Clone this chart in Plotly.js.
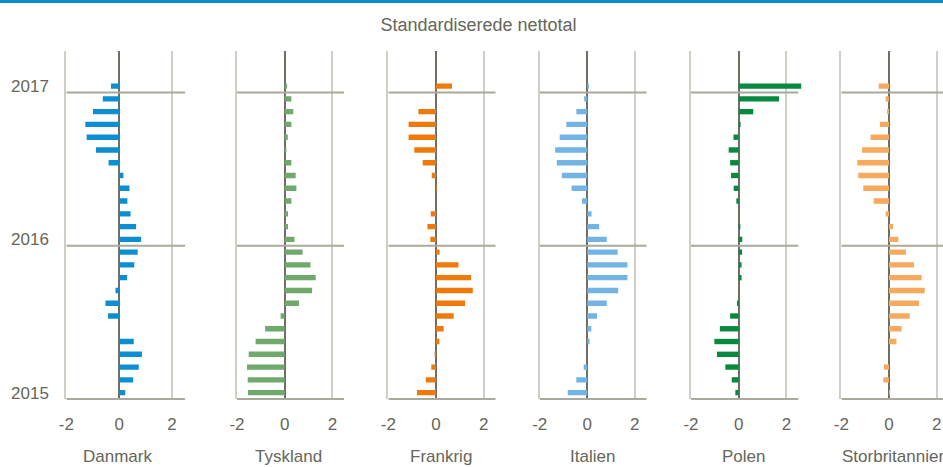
<!DOCTYPE html>
<html>
<head>
<meta charset="utf-8">
<script src="https://cdn.plot.ly/plotly-3.0.1.min.js"></script>
<style>html,body{margin:0;padding:0;background:#fff}#chart{width:943px;height:467px}</style>
</head>
<body>
<div id="chart"></div>
<script>
// Monthly periods, bottom (Jan 2015) to top (Jan 2017)
const months = ['2015-01','2015-02','2015-03','2015-04','2015-05','2015-06','2015-07','2015-08','2015-09','2015-10','2015-11','2015-12',
                '2016-01','2016-02','2016-03','2016-04','2016-05','2016-06','2016-07','2016-08','2016-09','2016-10','2016-11','2016-12',
                '2017-01'];
const yearTickPos = ['2015-01','2016-01','2017-01'];
const yearTickText = ['2015','2016','2017'];
const xTicks = [-2, 0, 2];
const countries = ['Danmark','Tyskland','Frankrig','Italien','Polen','Storbritannien'];

const danmark = [0.23,0.53,0.74,0.86,0.55,0,-0.42,-0.52,-0.14,0.30,0.57,0.70,0.83,0.64,0.43,0.31,0.39,0.16,-0.40,-0.88,-1.23,-1.28,-0.99,-0.62,-0.31];
const tyskland = [-1.54,-1.55,-1.58,-1.51,-1.22,-0.82,-0.17,0.60,1.15,1.30,1.08,0.75,0.41,0.14,0.14,0.28,0.49,0.46,0.28,0.07,0.13,0.28,0.36,0.28,0.10];
const frankrig = [-0.80,-0.43,-0.20,-0.06,0.14,0.32,0.74,1.22,1.54,1.47,0.94,0.15,-0.24,-0.36,-0.22,0,0.03,-0.18,-0.56,-0.91,-1.15,-1.15,-0.74,0,0.67];
const italien = [-0.82,-0.46,-0.15,0,0.10,0.17,0.41,0.82,1.30,1.69,1.69,1.28,0.82,0.50,0.18,-0.22,-0.66,-1.07,-1.28,-1.35,-1.16,-0.88,-0.46,-0.13,0.07];
const polen = [-0.14,-0.29,-0.56,-0.91,-1.02,-0.79,-0.36,-0.07,0,0.12,0.12,0.14,0.15,0.07,0,-0.10,-0.21,-0.32,-0.36,-0.42,-0.22,0.08,0.61,1.69,2.62];
const storbritannien = [0.05,-0.24,-0.21,0,0.31,0.53,0.87,1.26,1.50,1.37,1.05,0.71,0.39,0.17,-0.14,-0.64,-1.08,-1.29,-1.33,-1.13,-0.77,-0.38,-0.08,-0.14,-0.43];

const series = [danmark, tyskland, frankrig, italien, polen, storbritannien];
const colors = ['#0b8fd2','#6fa96c','#ef7a0a','#72b4e4','#078a3f','#f7a95e'];

// layout geometry (pixels in a 943x467 figure)
const W = 943, H = 467;
const panelPx = [[66.3,185.3],[237,344.3],[388.3,495.7],[539.7,646.7],[691,801.9],[841.3,943]];
const panelRange = [[-2,2.5],[-2,2.5],[-2,2.5],[-2,2.5],[-2,2.65],[-2,2.264]];
const lineEnd = [2.5,2.5,2.5,2.5,2.5,2.264];
const labelX = [-0.06,0.17,0.21,0.23,0.22,0.25];
const plotTop = 51, plotBot = 399;
const yRange = [-0.5, 26.75];

const txt = '#66665a';
const font = 'Liberation Sans, Arial, sans-serif';

const idx = months.map((m, i) => i);
const traces = series.map((vals, k) => ({
  type: 'bar', orientation: 'h',
  x: vals, y: idx,
  xaxis: 'x' + (k === 0 ? '' : k + 1), yaxis: 'y' + (k === 0 ? '' : k + 1),
  marker: {color: colors[k]}, width: 0.42,
  hoverinfo: 'skip', name: countries[k]
}));

const layout = {
  width: W, height: H,
  margin: {l: 0, r: 0, t: 0, b: 0},
  paper_bgcolor: '#fff', plot_bgcolor: 'rgba(0,0,0,0)',
  showlegend: false,
  font: {family: font, color: txt, size: 17},
  title: {text: 'Standardiserede nettotal', x: 478.5 / W, xanchor: 'center', y: 1 - 25 / H, yanchor: 'middle',
          font: {family: font, size: 18, color: txt}},
  shapes: [], annotations: []
};

const yDom = [1 - plotBot / H, 1 - plotTop / H];
const tickIdx = yearTickPos.map(p => months.indexOf(p));

for (let k = 0; k < 6; k++) {
  const s = k === 0 ? '' : String(k + 1);
  layout['xaxis' + s] = {
    domain: [panelPx[k][0] / W, panelPx[k][1] / W], range: panelRange[k], anchor: 'y' + s,
    tickvals: xTicks, ticktext: xTicks.map(String), ticks: '', ticklabelstandoff: 13,
    showgrid: true, gridcolor: '#cfcfc6', gridwidth: 2,
    zeroline: true, zerolinecolor: '#6e6e62', zerolinewidth: 2,
    showline: false, fixedrange: true, tickfont: {size: 17, color: txt}
  };
  layout['yaxis' + s] = {
    domain: yDom, range: yRange, anchor: 'x' + s,
    tickvals: k === 0 ? tickIdx : [], ticktext: k === 0 ? yearTickText : [],
    showticklabels: k === 0, ticks: '', ticklabelstandoff: 12,
    showgrid: false, zeroline: false,
    showline: true, linecolor: '#cfcfc6', linewidth: 2, fixedrange: true,
    tickfont: {size: 17, color: txt}
  };
  // year separator lines
  [11.5, 23.5].forEach(v => layout.shapes.push({
    type: 'line', xref: 'x' + s, yref: 'y' + s, x0: -2, x1: lineEnd[k], y0: v, y1: v,
    line: {color: '#aaa99c', width: 2}
  }));
  // bottom axis line
  layout.shapes.push({
    type: 'line', xref: 'x' + s, yref: 'paper', x0: -2, x1: lineEnd[k], y0: 1 - plotBot / H, y1: 1 - plotBot / H,
    line: {color: '#aaa99c', width: 2}
  });
  layout.annotations.push({
    text: countries[k], xref: 'x' + s, yref: 'paper', x: labelX[k], y: 1 - 456 / H,
    xanchor: 'center', yanchor: 'middle', showarrow: false, font: {size: 17, color: txt}
  });
}
// top blue rule
layout.shapes.push({type: 'rect', xref: 'paper', yref: 'paper', x0: 0, x1: 1, y0: 1 - 3 / H, y1: 1,
  fillcolor: '#0a8ccf', line: {width: 0}});

Plotly.newPlot('chart', traces, layout, {displayModeBar: false, staticPlot: true});
</script>
</body>
</html>
